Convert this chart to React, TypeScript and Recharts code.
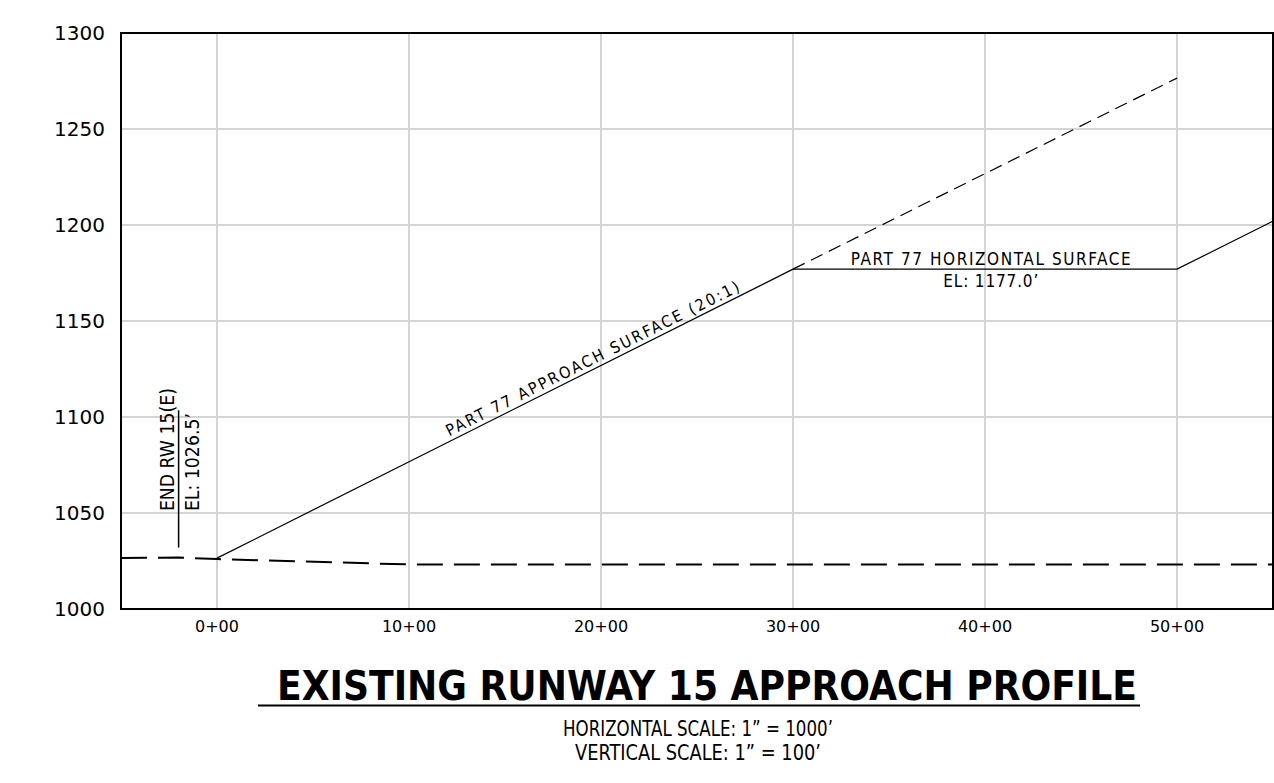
import React from "react";
import {
  ComposedChart,
  Line,
  XAxis,
  YAxis,
  CartesianGrid,
  ReferenceArea,
  ReferenceLine,
  ReferenceDot,
} from "recharts";

// ---- data ----
const xTicks = [0, 1000, 2000, 3000, 4000, 5000];
const yTicks = [1000, 1050, 1100, 1150, 1200, 1250, 1300];
const xDomain = [-500, 5500];
const yDomain = [1000, 1300];

const approachSurface = [
  { x: 0, y: 1026.5 },
  { x: 3000, y: 1177 },
];
const approachExtension = [
  { x: 3000, y: 1177 },
  { x: 5000, y: 1276.5 },
];
const horizontalSurface = [
  { x: 3000, y: 1177 },
  { x: 5000, y: 1177 },
  { x: 5500, y: 1202 },
];
const groundProfile = [
  { x: -500, y: 1026.5 },
  { x: -200, y: 1026.8 },
  { x: 0, y: 1026 },
  { x: 1000, y: 1023.2 },
  { x: 5500, y: 1023.2 },
];
const runwayEndMarker = [
  { x: -200, y: 1032 },
  { x: -200, y: 1103.5 },
];
const runwayEndLabel = { x: -200, y: 1051, line1: "END RW 15(E)", line2: "EL: 1026.5\u2019" };
const approachLabel = { x: 1980, y: 1125.5, text: "PART 77 APPROACH SURFACE (20:1)" };
const horizontalLabel = { x: 4030, y: 1177, line1: "PART 77 HORIZONTAL SURFACE", line2: "EL: 1177.0\u2019" };

const titleText = "EXISTING RUNWAY 15 APPROACH PROFILE";
const subtitle1 = "HORIZONTAL SCALE: 1\u201D = 1000\u2019";
const subtitle2 = "VERTICAL SCALE: 1\u201D = 100\u2019";

const NARROW = "'Liberation Sans Narrow', 'DejaVu Sans Condensed', 'Liberation Sans', sans-serif";
const fmtStation = (v: number) => `${Math.round(v / 100)}+00`;

export default function App() {
  return (
    <div style={{ position: "absolute", left: 0, top: 0, width: 1274, height: 783, background: "#fff" }}>
      <ComposedChart
        width={1274}
        height={783}
        margin={{ top: 33, right: 1, bottom: 144, left: 0 }}
      >
        <CartesianGrid stroke="#d4d4d4" strokeWidth={2} />
        <XAxis
          dataKey="x"
          type="number"
          domain={xDomain}
          ticks={xTicks}
          allowDataOverflow
          tickFormatter={fmtStation}
          axisLine={false}
          tickLine={false}
          tickSize={0}
          tickMargin={12}
          height={30}
          tick={{ fill: "#000", fontSize: 16, fontFamily: "'DejaVu Sans', sans-serif" }}
        />
        <YAxis
          type="number"
          domain={yDomain}
          ticks={yTicks}
          allowDataOverflow
          axisLine={false}
          tickLine={false}
          tickSize={0}
          tickMargin={16}
          width={121}
          tick={{ fill: "#000", fontSize: 20, fontFamily: "'DejaVu Sans', sans-serif" }}
        />
        <Line
          data={groundProfile}
          dataKey="y"
          type="linear"
          stroke="#000"
          strokeWidth={2}
          strokeDasharray="26 11"
          dot={false}
          isAnimationActive={false}
        />
        <Line
          data={approachSurface}
          dataKey="y"
          type="linear"
          stroke="#000"
          strokeWidth={1.2}
          dot={false}
          isAnimationActive={false}
        />
        <Line
          data={approachExtension}
          dataKey="y"
          type="linear"
          stroke="#000"
          strokeWidth={1.2}
          strokeDasharray="13 7"
          dot={false}
          isAnimationActive={false}
        />
        <Line
          data={horizontalSurface}
          dataKey="y"
          type="linear"
          stroke="#000"
          strokeWidth={1.2}
          dot={false}
          isAnimationActive={false}
        />
        <ReferenceLine
          segment={runwayEndMarker}
          stroke="#000"
          strokeWidth={1.5}
        />
        <ReferenceArea
          x1={xDomain[0]}
          x2={xDomain[1]}
          y1={yDomain[0]}
          y2={yDomain[1]}
          fill="none"
          fillOpacity={0}
          stroke="#000"
          strokeWidth={2}
        />
        <ReferenceDot
          x={runwayEndLabel.x}
          y={runwayEndLabel.y}
          r={0}
          shape={(p: any) => (
            <g>
              <text
                transform={`translate(${p.cx - 5},${p.cy}) rotate(-90)`}
                fontFamily={NARROW}
                fontSize={19}
                fill="#000"
                textLength={123}
                lengthAdjust="spacingAndGlyphs"
              >
                {runwayEndLabel.line1}
              </text>
              <text
                transform={`translate(${p.cx + 20},${p.cy}) rotate(-90)`}
                fontFamily={NARROW}
                fontSize={19}
                fill="#000"
                textLength={98}
                lengthAdjust="spacingAndGlyphs"
              >
                {runwayEndLabel.line2}
              </text>
            </g>
          )}
        />
        <ReferenceDot
          x={approachLabel.x}
          y={approachLabel.y}
          r={0}
          shape={(p: any) => (
            <text
              transform={`translate(${p.cx},${p.cy}) rotate(-26.565)`}
              y={-5}
              textAnchor="middle"
              fontFamily={NARROW}
              fontSize={16}
              fill="#000"
              textLength={326}
              lengthAdjust="spacing"
            >
              {approachLabel.text}
            </text>
          )}
        />
        <ReferenceDot
          x={horizontalLabel.x}
          y={horizontalLabel.y}
          r={0}
          shape={(p: any) => (
            <g>
              <text
                x={p.cx}
                y={p.cy - 4}
                textAnchor="middle"
                fontFamily={NARROW}
                fontSize={17}
                fill="#000"
                textLength={280}
                lengthAdjust="spacing"
              >
                {horizontalLabel.line1}
              </text>
              <text
                x={p.cx}
                y={p.cy + 18}
                textAnchor="middle"
                fontFamily={NARROW}
                fontSize={17}
                fill="#000"
                textLength={95}
                lengthAdjust="spacing"
              >
                {horizontalLabel.line2}
              </text>
            </g>
          )}
        />
      </ComposedChart>
      <svg
        width={1274}
        height={783}
        style={{ position: "absolute", left: 0, top: 0, pointerEvents: "none" }}
      >
        <text
          x={707}
          y={700}
          textAnchor="middle"
          fontFamily={NARROW}
          fontWeight="bold"
          fontSize={41}
          fill="#000"
          textLength={860}
          lengthAdjust="spacingAndGlyphs"
        >
          {titleText}
        </text>
        <line x1={258} y1={705.5} x2={1140} y2={705.5} stroke="#000" strokeWidth={2} />
        <text
          x={698}
          y={736}
          textAnchor="middle"
          fontFamily={NARROW}
          fontSize={21}
          fill="#000"
          textLength={270}
          lengthAdjust="spacingAndGlyphs"
        >
          {subtitle1}
        </text>
        <text
          x={698}
          y={760}
          textAnchor="middle"
          fontFamily={NARROW}
          fontSize={21}
          fill="#000"
          textLength={246}
          lengthAdjust="spacingAndGlyphs"
        >
          {subtitle2}
        </text>
      </svg>
    </div>
  );
}
